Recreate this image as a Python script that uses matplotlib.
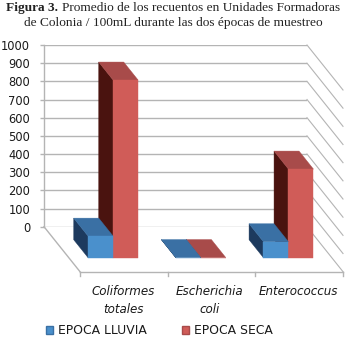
import matplotlib
matplotlib.use("Agg")
import matplotlib.pyplot as plt
from matplotlib.patches import Polygon, Patch

categories = ["Coliformes\ntotales", "Escherichia\ncoli", "Enterococcus"]
lluvia = [119, 1, 88]
seca = [978, 1, 488]
yticks = [0, 100, 200, 300, 400, 500, 600, 700, 800, 900, 1000]
series_names = ["EPOCA LLUVIA", "EPOCA SECA"]

W, H = 345, 338
GRID = "#b4b4b4"
BLUE = ("#4a90cc", "#3a70a4", "#1d3a5e")
RED = ("#d05c58", "#a84b4a", "#4a130f")

fig = plt.figure(figsize=(W / 100, H / 100), dpi=100)
fig.patch.set_facecolor("white")

# the axes is the back wall of the 3d box
left, right, top, bottom = 44, 307, 45, 226.7
ax = fig.add_axes([left / W, 1 - bottom / H, (right - left) / W, (bottom - top) / H])
ax.set_xlim(0, 3)
ax.set_ylim(0, 1000)
ax.set_facecolor("none")
for s in ["top", "right", "bottom"]:
    ax.spines[s].set_visible(False)
ax.spines["left"].set_color(GRID)
ax.spines["left"].set_linewidth(1)
ax.set_yticks(yticks)
ax.set_xticks([])
ax.tick_params(axis="y", length=3, width=1, color=GRID, labelsize=8.3, pad=7, labelcolor="#1a1a1a")
ax.grid(axis="y", color=GRID, linewidth=1)
ax.set_axisbelow(True)

# depth offset, d=0 back wall, d=1 front of floor
DX = 36 / ((right - left) / 3)
DY = 45 / ((bottom - top) / 1000)


def pt(x, y, d):
    return (x + d * DX, y - d * DY)


def poly(points, color, z):
    ax.add_patch(Polygon(points, closed=True, facecolor=color, edgecolor=color,
                         linewidth=0.3, clip_on=False, zorder=z))


def bar3d(x0, x1, h, colors, z):
    d0, d1 = 0.29, 0.69
    # side, top, front
    poly([pt(x0, 0, d0), pt(x0, h, d0), pt(x0, h, d1), pt(x0, 0, d1)], colors[2], z)
    poly([pt(x0, h, d0), pt(x1, h, d0), pt(x1, h, d1), pt(x0, h, d1)], colors[1], z)
    poly([pt(x0, 0, d1), pt(x1, 0, d1), pt(x1, h, d1), pt(x0, h, d1)], colors[0], z)


# walls and floor
for v in yticks:
    ax.plot(*zip(pt(3, v, 0), pt(3, v, 1)), color=GRID, lw=0.8, clip_on=False, zorder=1)
ax.plot(*zip(pt(0, 0, 0), pt(0, 0, 1)), color=GRID, lw=1, clip_on=False, zorder=1)
ax.plot(*zip(pt(0, 0, 1), pt(3, 0, 1)), color=GRID, lw=1, clip_on=False, zorder=1)
for i in range(4):
    a = pt(i, 0, 1)
    ax.plot([a[0], a[0]], [a[1], a[1] - 4 / 0.1817], color=GRID, lw=1, clip_on=False, zorder=1)

width = 0.285
for i in range(3):
    c = i + 0.505
    bar3d(c, c + width, seca[i], RED, 3)
    bar3d(c - width, c, lluvia[i], BLUE, 4)

# category labels
label_x = [123, 210, 298]
for name, x in zip(categories, label_x):
    fig.text(x / W, 1 - 285 / H, name, ha="center", va="top", fontsize=8.6,
             style="italic", color="#1a1a1a", linespacing=1.5)

# title
serif = "Liberation Serif"
fig.text(6 / W, 1 - 8 / H, "Figura 3.", ha="left", va="center", family=serif,
         fontsize=9.6, weight="bold", color="#222222")
fig.text(340 / W, 1 - 8 / H, "Promedio de los recuentos en Unidades Formadoras", ha="right", va="center",
         family=serif, fontsize=9.6, color="#222222")
fig.text(173 / W, 1 - 23 / H, "de Colonia / 100mL durante las dos épocas de muestreo", ha="center", va="center",
         family=serif, fontsize=9.6, color="#222222")

handles = [Patch(facecolor=BLUE[0], edgecolor=BLUE[1], label=series_names[0]),
           Patch(facecolor=RED[0], edgecolor=RED[1], label=series_names[1])]
fig.legend(handles=handles, loc="center left", bbox_to_anchor=(46 / W, 1 - 331 / H), ncol=2,
           frameon=False, fontsize=8.9, handlelength=0.58, handleheight=0.6,
           handletextpad=0.4, columnspacing=2.8, labelcolor="#1a1a1a", borderpad=0, borderaxespad=0)

fig.savefig("out.png", dpi=100)
